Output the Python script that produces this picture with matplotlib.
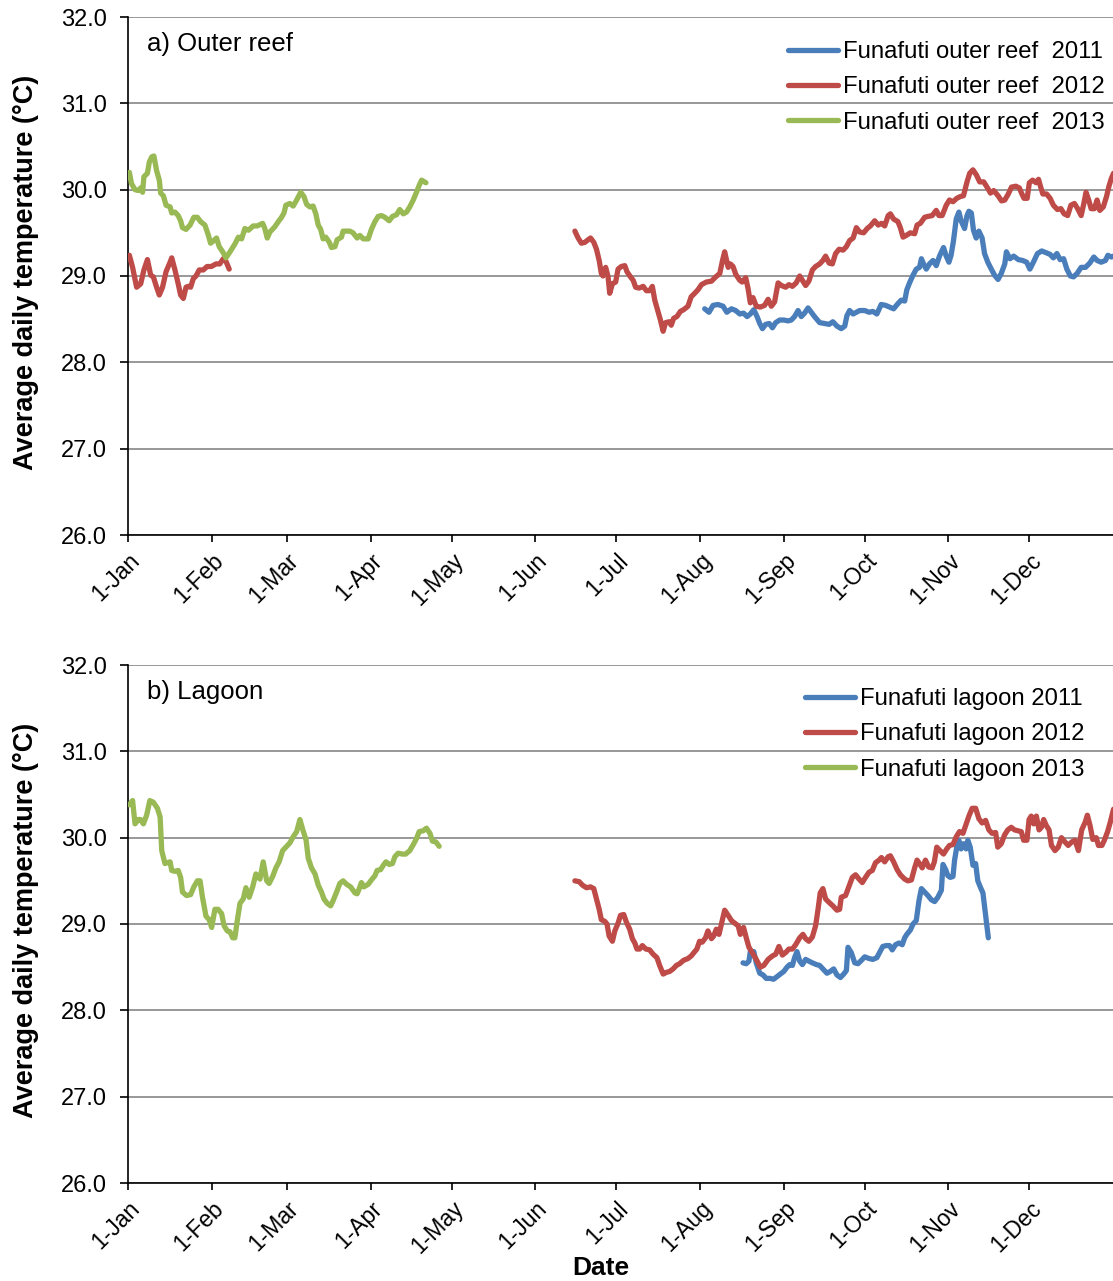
import numpy as np
import matplotlib
matplotlib.use("Agg")
import matplotlib.pyplot as plt

plt.rcParams['font.family'] = ['Liberation Sans', 'DejaVu Sans']

# ---------------- data (day of year, 0 = 1 Jan) ----------------
month_ticks = [0, 31, 59, 90, 120, 151, 181, 212, 243, 273, 304, 334]
month_labels = ['1-Jan', '1-Feb', '1-Mar', '1-Apr', '1-May', '1-Jun',
                '1-Jul', '1-Aug', '1-Sep', '1-Oct', '1-Nov', '1-Dec']
y_ticks = [26, 27, 28, 29, 30, 31, 32]

# Panel a: outer reef
outer_2011_day = [213.7, 215.3, 216.8, 218.6, 220.5, 221.9, 223.6, 225.2, 226.7, 228.1, 229.4, 230.6,
                  231.9, 233.1, 234.1, 235.1, 236.3, 237.6, 238.8, 240.0, 241.5, 243.0, 244.6, 245.8,
                  247.0, 248.3, 249.5, 250.7, 252.0, 253.2, 254.4,
                  256.3, 258.1, 259.8, 261.2, 262.7, 264.3, 265.6, 266.4, 267.4, 268.7, 269.9, 271.1,
                  273.0, 274.6, 276.0, 277.5, 279.1, 280.7, 282.2, 283.7, 285.3, 286.5, 287.8, 288.6,
                  289.6, 290.9, 292.1, 293.3, 294.0, 294.8, 295.8, 297.0, 298.3, 299.5, 300.7, 302.2,
                  303.2, 304.2, 305.0, 305.9, 306.9, 307.9, 308.7, 310.0, 310.9, 311.6, 312.5, 313.3,
                  314.3, 315.3, 316.5, 317.4, 318.6, 319.9, 321.1, 322.4, 323.6, 324.9, 325.5, 326.8,
                  328.2, 329.9, 331.5, 333.0, 334.2, 335.5, 337.0, 338.6, 340.2, 341.7, 342.9, 344.2,
                  345.4, 346.7, 347.9, 349.2, 350.4, 351.7, 353.2, 354.8, 356.4, 357.9, 359.1, 360.6,
                  362.2, 363.1, 364.4, 365.2]
outer_2011_temp = [28.62, 28.58, 28.66, 28.67, 28.65, 28.58, 28.62, 28.60, 28.56, 28.57, 28.53, 28.56,
                   28.61, 28.53, 28.45, 28.39, 28.44, 28.45, 28.40, 28.46, 28.49, 28.49, 28.48, 28.49,
                   28.53, 28.60, 28.53, 28.57, 28.63, 28.58, 28.53,
                   28.46, 28.45, 28.44, 28.47, 28.42, 28.39, 28.42, 28.54, 28.60, 28.56, 28.58, 28.60,
                   28.60, 28.58, 28.59, 28.56, 28.67, 28.66, 28.64, 28.62, 28.68, 28.72, 28.71, 28.84,
                   28.92, 29.01, 29.08, 29.10, 29.20, 29.14, 29.08, 29.14, 29.18, 29.12, 29.23, 29.33,
                   29.23, 29.16, 29.24, 29.41, 29.66, 29.74, 29.64, 29.55, 29.70, 29.75, 29.73, 29.53,
                   29.44, 29.52, 29.44, 29.26, 29.16, 29.08, 29.01, 28.96, 29.03, 29.14, 29.28, 29.20,
                   29.23, 29.19, 29.18, 29.16, 29.08, 29.16, 29.26, 29.29, 29.27, 29.25, 29.21, 29.26,
                   29.19, 29.20, 29.08, 29.00, 28.99, 29.03, 29.10, 29.10, 29.15, 29.22, 29.18, 29.16,
                   29.18, 29.24, 29.22, 29.23]

outer_2012_day = [0.5, 1.7, 3.2, 4.7, 5.9, 7.2, 8.4, 9.4, 10.6, 11.6, 12.8, 14.1, 15.6, 16.2, 17.4,
                  18.6, 19.5, 20.5, 21.5, 22.3, 23.2, 24.2, 25.2, 26.4, 27.9, 29.3, 30.9, 32.6, 34.0,
                  35.3, 36.3, 37.5,
                  np.nan,
                  165.6, 166.8, 168.0, 169.3, 170.1, 171.4, 172.6, 173.6, 174.6, 175.4, 176.0, 177.0,
                  177.9, 178.5, 179.5, 180.7, 181.6, 182.8, 184.1, 184.9, 186.2, 187.2, 188.1, 189.4,
                  190.9, 192.1, 193.3, 194.3, 195.2, 196.4, 197.3, 198.3, 199.2, 200.5, 201.3, 202.2,
                  203.4, 204.7, 205.9, 207.5, 208.7, 210.0, 211.2, 212.5, 214.3, 216.2, 217.8, 219.3,
                  220.3, 221.1, 222.4, 223.2, 224.2, 225.2, 226.7, 227.6, 228.9, 229.8, 230.6, 231.6,
                  232.8, 234.3, 235.9, 237.2, 238.4, 239.6, 240.9, 242.1, 243.7, 244.9, 246.2, 247.6,
                  248.9, 249.9, 251.1, 252.3, 253.6, 254.8, 256.3,
                  257.5, 258.5, 259.8, 261.0, 262.2, 263.5, 265.0, 266.2, 267.4, 268.7, 269.9, 271.1,
                  272.6, 273.9, 275.1, 276.7, 278.0, 279.2, 280.4, 281.7, 282.5, 283.7, 285.3, 286.2,
                  287.2, 288.4, 289.9, 291.5, 292.4, 293.6, 295.2, 296.4, 298.0, 299.5, 300.5, 301.7,
                  303.2, 304.4, 305.7, 307.1, 308.4, 309.6, 310.9, 311.9, 313.1, 314.4, 315.6, 317.1,
                  318.7, 319.6, 320.8, 322.4, 323.7, 324.9, 326.2, 327.4, 329.0, 330.3, 331.1, 332.0,
                  333.2, 334.0, 335.2, 336.5, 337.4, 338.2, 339.0, 340.4, 341.7, 342.9, 344.4, 345.7,
                  346.9, 348.2, 349.4, 350.7, 351.9, 353.2, 354.2, 355.0, 356.0, 356.9, 358.1, 359.1,
                  360.1, 361.4, 362.6, 363.5, 364.4, 365.2]
outer_2012_temp = [29.24, 29.10, 28.87, 28.91, 29.07, 29.19, 29.01, 28.99, 28.87, 28.78, 28.87, 29.05,
                   29.16, 29.21, 29.07, 28.91, 28.78, 28.74, 28.87, 28.88, 28.87, 28.97, 29.00, 29.07,
                   29.07, 29.11, 29.11, 29.14, 29.14, 29.20, 29.17, 29.08,
                   np.nan,
                   29.52, 29.44, 29.38, 29.39, 29.41, 29.44, 29.39, 29.31, 29.18, 29.03, 29.00, 29.10,
                   28.99, 28.80, 28.91, 28.93, 29.08, 29.11, 29.12, 29.05, 28.99, 28.95, 28.87, 28.86,
                   28.88, 28.83, 28.83, 28.88, 28.72, 28.59, 28.49, 28.36, 28.46, 28.47, 28.43, 28.51,
                   28.53, 28.59, 28.61, 28.65, 28.76, 28.80, 28.84, 28.90, 28.93, 28.94, 28.99, 29.03,
                   29.18, 29.28, 29.10, 29.14, 29.11, 29.02, 28.95, 28.93, 28.98, 28.85, 28.69, 28.75,
                   28.65, 28.64, 28.66, 28.73, 28.65, 28.70, 28.92, 28.89, 28.87, 28.90, 28.88, 28.92,
                   29.00, 28.95, 28.89, 28.94, 29.07, 29.11, 29.14,
                   29.18, 29.23, 29.15, 29.14, 29.26, 29.31, 29.30, 29.34, 29.41, 29.44, 29.56, 29.51,
                   29.50, 29.55, 29.58, 29.64, 29.59, 29.61, 29.58, 29.70, 29.72, 29.66, 29.63, 29.56,
                   29.45, 29.47, 29.50, 29.49, 29.59, 29.61, 29.68, 29.69, 29.70, 29.76, 29.70, 29.70,
                   29.82, 29.88, 29.86, 29.90, 29.92, 29.93, 30.09, 30.19, 30.23, 30.17, 30.09, 30.09,
                   30.01, 29.96, 29.99, 29.93, 29.87, 29.88, 29.95, 30.03, 30.04, 30.02, 29.96, 29.90,
                   29.90, 30.08, 30.11, 30.08, 30.12, 30.03, 29.95, 29.95, 29.90, 29.82, 29.77, 29.78,
                   29.72, 29.70, 29.82, 29.84, 29.78, 29.70, 29.84, 29.97, 29.88, 29.78, 29.78, 29.88,
                   29.76, 29.80, 29.92, 30.04, 30.13, 30.19]

outer_2013_day = [0.5, 1.3, 2.6, 3.8, 4.7, 5.4, 5.9, 7.2, 7.9, 8.8, 9.6, 10.6, 11.6, 12.1, 13.1, 14.1,
                  15.6, 16.2, 17.4, 18.6, 19.5, 20.2, 21.5, 23.0, 24.4, 25.7, 26.9, 28.5, 29.7, 30.6,
                  31.8, 32.8, 33.8, 35.1, 36.3, 37.8, 39.6, 40.9, 42.1, 43.3, 44.6, 46.4, 47.9, 49.9,
                  50.7, 51.6, 52.6, 54.4, 55.7, 56.9, 57.8, 58.5, 60.0, 61.2, 62.5, 64.0, 65.2, 66.2,
                  67.4, 68.6, 69.6, 70.5, 71.4, 72.3, 73.3, 74.6, 75.4, 76.7, 77.5, 79.1, 79.7, 82.2,
                  83.4, 84.9, 85.9, 87.2, 89.0, 90.2, 91.5, 92.7, 93.9, 95.2, 96.8, 98.0, 99.5, 100.7,
                  102.0, 103.2, 104.4, 105.7, 106.9, 107.9, 108.8, 110.4]
outer_2013_temp = [30.20, 30.07, 30.00, 29.99, 30.02, 29.97, 30.15, 30.19, 30.32, 30.38, 30.39, 30.22,
                   30.11, 29.96, 29.93, 29.82, 29.80, 29.73, 29.74, 29.70, 29.64, 29.56, 29.54, 29.59,
                   29.68, 29.68, 29.63, 29.59, 29.48, 29.38, 29.41, 29.44, 29.34, 29.28, 29.21, 29.28,
                   29.37, 29.45, 29.43, 29.55, 29.53, 29.58, 29.58, 29.61, 29.55, 29.44, 29.51, 29.57,
                   29.63, 29.68, 29.73, 29.82, 29.84, 29.81, 29.88, 29.97, 29.92, 29.83, 29.80, 29.81,
                   29.72, 29.59, 29.54, 29.43, 29.45, 29.39, 29.33, 29.34, 29.42, 29.45, 29.52, 29.52,
                   29.50, 29.44, 29.47, 29.43, 29.43, 29.54, 29.63, 29.69, 29.70, 29.68, 29.64, 29.69,
                   29.71, 29.77, 29.72, 29.74, 29.80, 29.88, 29.97, 30.05, 30.11, 30.08]

# Panel b: lagoon
lagoon_2011_day = [227.9, 229.1, 230.1, 230.6, 231.9, 232.8, 234.1, 235.3, 236.5, 238.0, 239.2, 240.5,
                   241.7, 243.0, 244.2, 245.2, 246.2, 247.0, 247.9, 248.9, 249.9, 251.1, 252.3, 253.6,
                   255.1,
                   256.3, 257.5, 259.0, 260.2, 261.5, 262.7, 264.0, 265.2, 266.2, 266.8, 268.0, 269.3,
                   270.5, 271.8, 273.0, 274.6, 276.0, 277.5, 278.5, 279.7, 281.0, 282.2, 283.2, 284.4,
                   285.7, 286.9, 287.8, 288.6, 289.9, 290.9, 292.1, 293.1, 294.0, 295.2, 296.4, 297.7,
                   298.9, 300.1, 301.4, 302.0, 303.0, 303.8, 304.7, 305.7, 306.3, 307.1, 307.9, 308.7,
                   309.6, 310.6, 311.2, 312.1, 313.1, 314.1, 314.9, 315.8, 316.8, 317.8, 318.8]
lagoon_2011_temp = [28.55, 28.54, 28.57, 28.68, 28.68, 28.55, 28.43, 28.41, 28.37, 28.37, 28.36, 28.39,
                    28.42, 28.45, 28.50, 28.53, 28.52, 28.61, 28.68, 28.57, 28.53, 28.59, 28.57, 28.55,
                    28.53,
                    28.52, 28.48, 28.43, 28.45, 28.48, 28.41, 28.38, 28.42, 28.46, 28.73, 28.67, 28.55,
                    28.54, 28.58, 28.62, 28.60, 28.59, 28.61, 28.67, 28.74, 28.75, 28.75, 28.70, 28.76,
                    28.78, 28.76, 28.84, 28.88, 28.93, 29.00, 29.04, 29.27, 29.41, 29.37, 29.33, 29.28,
                    29.26, 29.31, 29.39, 29.69, 29.63, 29.56, 29.54, 29.55, 29.74, 29.89, 29.97, 29.87,
                    29.93, 29.87, 29.97, 29.89, 29.68, 29.70, 29.50, 29.43, 29.36, 29.10, 28.84]

lagoon_2012_day = [165.6, 167.2, 168.4, 169.9, 171.4, 172.6, 173.6, 174.6, 175.4, 176.7, 177.5, 178.3,
                   179.5, 180.4, 181.6, 182.5, 183.7, 184.7, 185.9, 186.9, 187.8, 188.6, 189.6, 190.6,
                   191.9, 193.3, 194.6, 196.0, 197.0, 198.3, 199.5, 200.7, 202.0, 203.2, 204.4, 205.9,
                   207.5, 208.7, 210.0, 210.8, 211.8, 212.8, 214.0, 214.9, 216.2, 217.0, 218.0, 219.0,
                   220.2, 221.1, 222.4, 223.6, 224.8, 226.1, 226.9, 228.1, 229.1, 230.1, 231.3, 232.8,
                   234.3, 235.6, 237.2, 238.8, 240.0, 241.2, 242.5, 243.7, 244.9, 246.2, 247.4, 248.9,
                   250.1, 251.1, 252.3, 253.6, 254.8, 255.7, 256.5,
                   257.5, 258.5, 259.8, 261.2, 262.7, 263.7, 264.3, 265.9, 267.1, 268.4, 269.6, 270.9,
                   272.1, 273.3, 274.6, 275.8, 277.0, 278.3, 279.2, 280.4, 281.7, 282.5, 283.7, 285.0,
                   286.2, 287.8, 289.0, 290.3, 291.5, 292.4, 293.3, 294.3, 295.5, 296.7, 298.0, 298.8,
                   299.7, 300.9, 302.2, 303.4, 304.4, 305.7, 306.9, 308.1, 309.4, 310.4, 311.6, 312.8,
                   314.1, 315.3, 316.5, 317.8, 319.0, 320.2, 321.5, 322.3, 323.6, 324.8, 326.0, 327.3,
                   328.5, 329.8, 331.0, 331.9, 333.1, 333.9, 334.7, 335.6, 336.6, 337.6, 338.5, 339.3,
                   340.3, 341.3, 342.2, 343.5, 344.7, 345.9, 347.2, 348.4, 349.7, 350.9, 352.2, 353.4,
                   354.7, 355.5, 356.5, 357.5, 358.8, 359.6, 360.9, 361.8, 363.0, 364.0, 365.2]
lagoon_2012_temp = [29.50, 29.49, 29.45, 29.42, 29.43, 29.41, 29.29, 29.17, 29.05, 29.03, 29.00, 28.86,
                    28.80, 28.92, 29.01, 29.10, 29.11, 29.02, 28.94, 28.83, 28.78, 28.71, 28.71, 28.75,
                    28.71, 28.70, 28.65, 28.61, 28.52, 28.42, 28.44, 28.45, 28.48, 28.52, 28.54, 28.58,
                    28.60, 28.63, 28.68, 28.71, 28.80, 28.79, 28.84, 28.92, 28.83, 28.86, 28.94, 28.88,
                    29.04, 29.16, 29.10, 29.04, 29.01, 28.98, 28.88, 28.96, 28.84, 28.73, 28.67, 28.59,
                    28.50, 28.52, 28.59, 28.63, 28.65, 28.74, 28.64, 28.67, 28.71, 28.71, 28.76, 28.84,
                    28.88, 28.83, 28.80, 28.85, 28.98, 29.17, 29.36,
                    29.41, 29.29, 29.25, 29.21, 29.16, 29.17, 29.31, 29.33, 29.43, 29.54, 29.57, 29.52,
                    29.48, 29.54, 29.60, 29.62, 29.71, 29.74, 29.77, 29.72, 29.78, 29.79, 29.72, 29.63,
                    29.57, 29.52, 29.50, 29.51, 29.65, 29.74, 29.70, 29.65, 29.74, 29.66, 29.65, 29.72,
                    29.89, 29.85, 29.81, 29.87, 29.91, 29.92, 30.01, 30.07, 30.05, 30.14, 30.25, 30.34,
                    30.34, 30.22, 30.17, 30.20, 30.09, 30.05, 30.06, 29.89, 29.93, 30.03, 30.09, 30.12,
                    30.09, 30.08, 30.07, 29.97, 29.97, 30.21, 30.25, 30.16, 30.25, 30.09, 30.12, 30.21,
                    30.14, 30.09, 29.91, 29.85, 29.89, 30.00, 29.95, 29.91, 29.95, 29.97, 29.85, 30.09,
                    30.18, 30.26, 30.14, 29.98, 30.00, 29.91, 29.91, 29.97, 30.07, 30.18, 30.33]

lagoon_2013_day = [0.5, 1.7, 2.6, 3.8, 4.7, 5.7, 6.9, 8.1, 9.4, 10.9, 11.9, 12.5, 13.7, 14.6, 15.6,
                   16.2, 17.4, 18.6, 19.5, 20.2, 21.7, 23.2, 24.4, 25.7, 26.7, 27.6, 28.9, 30.1, 31.0,
                   32.2, 33.4, 34.7, 35.6, 36.8, 37.8, 38.8, 39.6, 40.5, 41.5, 42.7, 43.7, 44.9, 46.2,
                   47.4, 48.9, 50.1, 51.4, 52.3, 53.6, 54.8, 56.0, 57.3, 58.5, 60.0, 61.2, 62.5, 63.7,
                   64.7, 66.0, 66.8, 68.0, 69.3, 70.5, 71.7, 72.6, 73.8, 75.1, 76.0, 77.3, 78.5, 79.7,
                   81.0, 82.5, 84.1, 84.9, 85.7, 86.5, 87.4, 89.0, 90.2, 91.5, 92.3, 93.6, 94.6, 95.6,
                   96.8, 98.0, 98.9, 100.1, 101.7, 102.9, 104.4, 105.9, 106.9, 107.9, 109.4, 110.6,
                   111.9, 112.8, 114.1, 115.3]
lagoon_2013_temp = [30.38, 30.43, 30.16, 30.21, 30.21, 30.16, 30.26, 30.43, 30.41, 30.34, 30.24, 29.85,
                    29.70, 29.71, 29.72, 29.62, 29.61, 29.62, 29.54, 29.37, 29.33, 29.34, 29.43, 29.50,
                    29.50, 29.31, 29.09, 29.05, 28.96, 29.17, 29.17, 29.12, 28.98, 28.92, 28.91, 28.84,
                    28.84, 29.04, 29.24, 29.29, 29.42, 29.31, 29.43, 29.58, 29.52, 29.72, 29.50, 29.47,
                    29.55, 29.65, 29.72, 29.85, 29.89, 29.94, 30.01, 30.07, 30.21, 30.10, 29.97, 29.76,
                    29.65, 29.58, 29.45, 29.37, 29.29, 29.24, 29.21, 29.27, 29.37, 29.47, 29.50, 29.46,
                    29.43, 29.36, 29.35, 29.41, 29.48, 29.43, 29.46, 29.51, 29.56, 29.62, 29.63, 29.68,
                    29.72, 29.69, 29.70, 29.78, 29.82, 29.81, 29.81, 29.85, 29.93, 29.99, 30.07, 30.08,
                    30.11, 30.05, 29.96, 29.95, 29.90]

labels_a = ['Funafuti outer reef  2011', 'Funafuti outer reef  2012', 'Funafuti outer reef  2013']
labels_b = ['Funafuti lagoon 2011', 'Funafuti lagoon 2012', 'Funafuti lagoon 2013']
colors = ['#4A7EBB', '#BE4B48', '#98B954']

# ---------------- figure ----------------
W, H = 1113, 1281
fig = plt.figure(figsize=(W / 100, H / 100), dpi=100)

def px_axes(left, top, right, bottom):
    return fig.add_axes([left / W, 1 - bottom / H, (right - left) / W, (bottom - top) / H])

ax_a = px_axes(128, 17, 1113, 535)
ax_b = px_axes(128, 665, 1113, 1183)

def style(ax):
    ax.set_xlim(0, 365)
    ax.set_ylim(26, 32)
    ax.set_yticks(y_ticks)
    ax.set_yticklabels(['%.1f' % v for v in y_ticks])
    ax.set_xticks(month_ticks)
    ax.set_xticklabels(month_labels, rotation=45, ha='right', va='top', rotation_mode='anchor')
    ax.grid(axis='y', color='#868686', lw=1.2, zorder=0)
    ax.set_axisbelow(True)
    for s in ['top', 'right']:
        ax.spines[s].set_visible(False)
    for s in ['left', 'bottom']:
        ax.spines[s].set_color('black')
        ax.spines[s].set_linewidth(1.2)
    ax.tick_params(axis='y', direction='out', length=6, width=1.2, pad=9, labelsize=17)
    ax.tick_params(axis='x', direction='out', length=5, width=1.2, pad=5, labelsize=16.5)

def draw(ax, series, labels, legend_xy, title):
    style(ax)
    handles = []
    for (d, t), c, lab in zip(series, colors, labels):
        h, = ax.plot(d, t, color=c, lw=3.8, solid_joinstyle='round', solid_capstyle='round',
                     label=lab, zorder=3)
        handles.append(h)
    ax.legend(handles=handles, loc='upper left', bbox_to_anchor=(legend_xy[0] / W, 1 - legend_xy[1] / H),
              bbox_transform=fig.transFigure, frameon=False, fontsize=17.2, borderpad=0,
              borderaxespad=0, handlelength=2.1, handletextpad=0.22, labelspacing=0.56)
    ax.text(0.019, 0.948, title, transform=ax.transAxes, fontsize=18.5, ha='left', va='center')

draw(ax_a, [(outer_2011_day, outer_2011_temp), (outer_2012_day, outer_2012_temp),
            (outer_2013_day, outer_2013_temp)], labels_a, (788, 41), 'a) Outer reef')
draw(ax_b, [(lagoon_2011_day, lagoon_2011_temp), (lagoon_2012_day, lagoon_2012_temp),
            (lagoon_2013_day, lagoon_2013_temp)], labels_b, (805, 688), 'b) Lagoon')

for top, bottom in [(17, 535), (665, 1183)]:
    fig.text(26 / W, 1 - ((top + bottom) / 2 - 4) / H, 'Average daily temperature (°C)', rotation=90,
             ha='center', va='center', fontsize=19.5, fontweight='bold')

fig.text(601 / W, 1 - 1268 / H, 'Date', ha='center', va='center', fontsize=19, fontweight='bold')

fig.savefig('out.png', dpi=100)
